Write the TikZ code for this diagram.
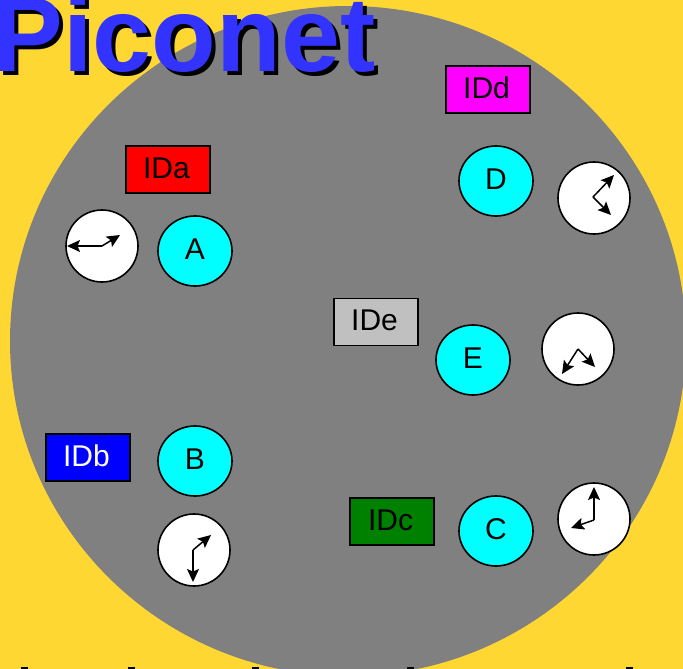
\documentclass[tikz,border=0pt]{standalone}
\usepackage{fontspec}
\setmainfont{Liberation Sans}
\usetikzlibrary{arrows.meta}
\definecolor{bgyellow}{RGB}{255,215,51}
\definecolor{disc}{RGB}{128,128,128}
\definecolor{titleblue}{RGB}{51,51,255}
\definecolor{idgreen}{RGB}{0,128,0}
\definecolor{devcyan}{RGB}{0,255,255}
\definecolor{idmagenta}{RGB}{255,0,255}
\definecolor{idgrey}{RGB}{192,192,192}
\definecolor{idred}{RGB}{255,0,0}
\definecolor{idblue}{RGB}{0,0,255}
\tikzset{
  idbox/.style={draw=black,line width=1.3pt,minimum width=84pt,minimum height=47pt,inner sep=0pt},
  idlabel/.style={inner sep=0pt,font=\fontsize{30}{30}\selectfont,text=black},
  clockface/.style={draw=black,line width=1.6pt,fill=white,circle,minimum size=72pt,inner sep=0pt},
  hand/.style={draw=black,line width=1.5pt,-{Stealth[length=13pt,width=12pt,inset=2.5pt]}},
  cliptop/.style={fill=black}
}
\newcommand{\devnode}[3]{%
  \draw[line width=1.6pt,fill=devcyan] (#2) ellipse [x radius=37,y radius=35];
  \path (#2) ++(0,-2) node[font=\fontsize{30}{30}\selectfont,inner sep=0pt] (#1) {#3};}
\begin{document}
\begin{tikzpicture}[x=1pt,y=-1pt]
\useasboundingbox (0,0) rectangle (683,669);
\clip (0,0) rectangle (683,669);
\fill[bgyellow] (0,0) rectangle (683,669);
\fill[disc] (348,341) ellipse [x radius=338,y radius=335];
% clipped tops of the text cut off at the bottom edge
\fill[cliptop] (21,667) rectangle (28,669);
\fill[cliptop] (128,667) rectangle (135,669);
\fill[cliptop] (252,667) rectangle (259,669);
\fill[cliptop] (407,667) rectangle (414,669);
\fill[cliptop] (626,667) rectangle (633,669);
% title
\node[anchor=base west,inner sep=0pt,text=black,font=\fontsize{106}{106}\selectfont\bfseries] (titleshadow) at (-3.5,75.5) {Piconet};
\node[anchor=base west,inner sep=0pt,text=titleblue,font=\fontsize{106}{106}\selectfont\bfseries] (title) at (-7.5,71.5) {Piconet};
% id boxes
\node[idbox,fill=idred] (ida) at (168,169.5) {};
\node[idbox,fill=idmagenta] (idd) at (488,89.5) {};
\node[idbox,fill=idgrey] (ide) at (376,322) {};
\node[idbox,fill=idblue] (idb) at (88,457.5) {};
\node[idbox,fill=idgreen] (idc) at (392,521.5) {};
\node[idlabel] (idat) at (166.5,168) {IDa};
\node[idlabel] (iddt) at (486.5,88) {IDd};
\node[idlabel] (idet) at (374.5,320.5) {IDe};
\node[idlabel,text=white] (idbt) at (86.5,456) {IDb};
\node[idlabel] (idct) at (390.5,520) {IDc};
% devices
\devnode{a}{195,251}{A}
\devnode{d}{496,181}{D}
\devnode{e}{473,360}{E}
\devnode{b}{195,461}{B}
\devnode{c}{496,531}{C}
% clocks
\node[clockface] (ca) at (102,246) {};
\node[clockface] (cd) at (594,198) {};
\node[clockface] (ce) at (578,349) {};
\node[clockface] (cb) at (194,550) {};
\node[clockface] (cc) at (594,519) {};
% hands
\coordinate (pa) at (102,246);
\coordinate (pa1) at (67,246);
\coordinate (pa2) at (120,235);
\draw[hand] (pa) -- (pa1);
\draw[hand] (pa) -- (pa2);
\coordinate (pd) at (593,197);
\coordinate (pd1) at (614,175);
\coordinate (pd2) at (611,215);
\draw[hand] (pd) -- (pd1);
\draw[hand] (pd) -- (pd2);
\coordinate (pe) at (578,349);
\coordinate (pe1) at (562,374);
\coordinate (pe2) at (595,367);
\draw[hand] (pe) -- (pe1);
\draw[hand] (pe) -- (pe2);
\coordinate (pb) at (193,550);
\coordinate (pb1) at (193,582);
\coordinate (pb2) at (211,535);
\draw[hand] (pb) -- (pb1);
\draw[hand] (pb) -- (pb2);
\coordinate (pc) at (594,520);
\coordinate (pc1) at (594,487);
\coordinate (pc2) at (571,528);
\draw[hand] (pc) -- (pc1);
\draw[hand] (pc) -- (pc2);
\end{tikzpicture}
\end{document}
